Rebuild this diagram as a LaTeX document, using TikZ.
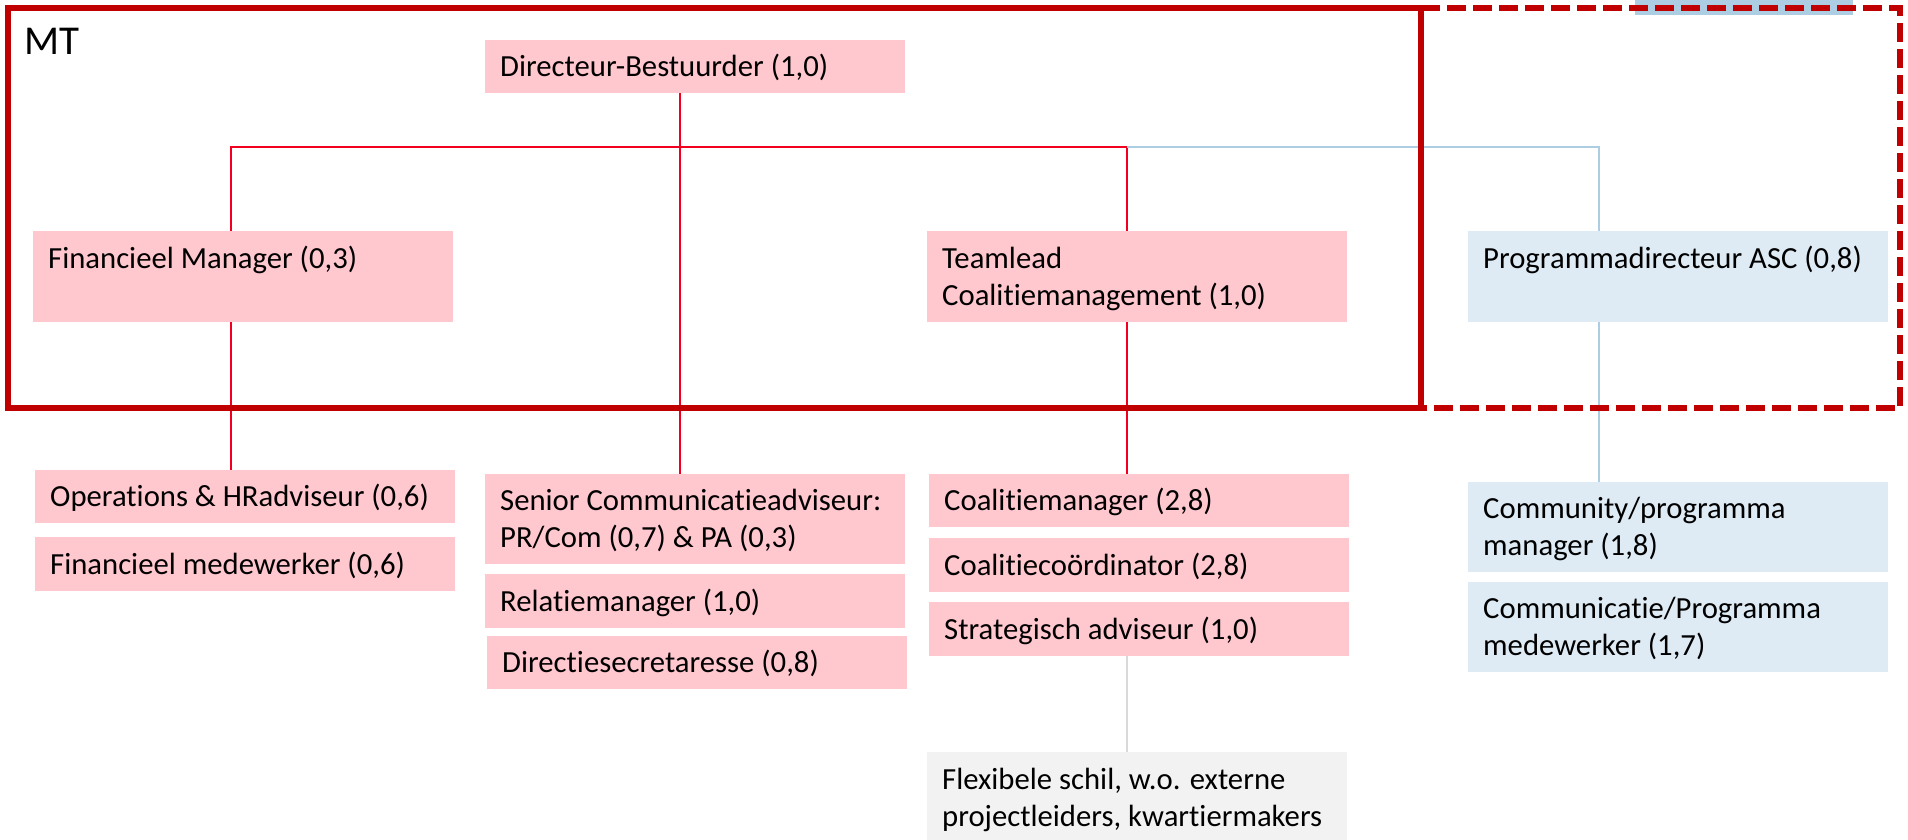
\documentclass[tikz,border=0pt]{standalone}
\usepackage{fontspec}
\setmainfont{Carlito}[Ligatures={NoCommon}]
\definecolor{boxpink}{HTML}{FFC7CE}
\definecolor{boxblue}{HTML}{DEEBF5}
\definecolor{boxgrey}{HTML}{F2F2F2}
\definecolor{linered}{HTML}{F0001E}
\definecolor{mtred}{HTML}{C00000}
\definecolor{lineblue}{HTML}{ADCDE3}
\definecolor{linegrey}{HTML}{D9D9D9}
\newcommand\mystrut{\rule[-8.5pt]{0pt}{37pt}}
\tikzset{
  orgbox/.style={draw=none, rectangle, anchor=north west, inner xsep=15pt, inner ysep=0pt,
    minimum width=420pt, align=left, font=\fontsize{30.7}{37}\selectfont, text=black},
  pinkbox/.style={orgbox, fill=boxpink},
  bluebox/.style={orgbox, fill=boxblue},
  greybox/.style={orgbox, fill=boxgrey},
  redline/.style={draw=linered, line width=2.5pt},
  blueline/.style={draw=lineblue, line width=2.5pt},
  greyline/.style={draw=linegrey, line width=2.5pt},
  mtframe/.style={draw=mtred, line width=6pt},
}
\begin{document}
\begin{tikzpicture}[x=1pt, y=-1pt]
\useasboundingbox (0,0) rectangle (1908,840);
% top bar
\fill[lineblue] (1635,0) rectangle (1853,15);
% boxes (text placed in a fixed-width box so it stays left-aligned)
\newcommand\bt[1]{\makebox[390pt][l]{#1}}
\node[pinkbox, minimum height=53pt] (dir) at (485,40) {\mystrut\bt{Directeur-Bestuurder (1,0)}};
\node[pinkbox, minimum height=91pt] (fm) at (33,231) {\mystrut\bt{Financieel Manager (0,3)}\\\mystrut};
\node[pinkbox, minimum height=91pt] (tl) at (927,231) {\mystrut\bt{Teamlead}\\\mystrut\bt{Coalitiemanagement (1,0)}};
\node[bluebox, minimum height=91pt] (pd) at (1468,231) {\mystrut\bt{Programmadirecteur ASC (0,8)}\\\mystrut};
\node[pinkbox, minimum height=53pt] (ops) at (35,470) {\mystrut\bt{Operations \& HRadviseur (0,6)}};
\node[pinkbox, minimum height=54pt] (fmw) at (35,537) {\mystrut\bt{Financieel medewerker (0,6)}};
\node[pinkbox, minimum height=90pt] (sen) at (485,474) {\mystrut\bt{Senior Communicatieadviseur:}\\\mystrut\bt{PR/Com (0,7) \& PA (0,3)}};
\node[pinkbox, minimum height=54pt] (rel) at (485,574) {\mystrut\bt{Relatiemanager (1,0)}};
\node[pinkbox, minimum height=53pt] (sec) at (487,636) {\mystrut\bt{Directiesecretaresse (0,8)}};
\node[pinkbox, minimum height=53pt] (cm) at (929,474) {\mystrut\bt{Coalitiemanager (2,8)}};
\node[pinkbox, minimum height=54pt] (cc) at (929,538) {\mystrut\bt{Coalitieco\"ordinator (2,8)}};
\node[pinkbox, minimum height=54pt] (sa) at (929,602) {\mystrut\bt{Strategisch adviseur (1,0)}};
\node[greybox, minimum height=91pt] (flex) at (927,752) {\mystrut\bt{Flexibele schil, w.o. externe}\\\mystrut\bt{projectleiders, kwartiermakers}};
\node[bluebox, minimum height=90pt] (com) at (1468,482) {\mystrut\bt{Community/programma}\\\mystrut\bt{manager (1,8)}};
\node[bluebox, minimum height=90pt] (cpm) at (1468,582) {\mystrut\bt{Communicatie/Programma}\\\mystrut\bt{medewerker (1,7)}};
% connector coordinates
\coordinate (hl) at (231,147);
\coordinate (hr) at (1127,147);
\coordinate (hb) at (1599,147);
\coordinate (dx) at (680,0);
% connectors
\draw[redline] (fm.north -| hl) -- (hl) -- (hr) -- (tl.north -| hr);
\draw[blueline] (hr) -- (hb) -- (pd.north -| hb);
\draw[redline] (dir.south -| dx) -- (sen.north -| dx);
\draw[redline] (fm.south -| hl) -- (ops.north -| hl);
\draw[redline] (tl.south -| hr) -- (cm.north -| hr);
\draw[blueline] (pd.south -| hb) -- (com.north -| hb);
\draw[greyline] (sa.south -| hr) -- (flex.north -| hr);
% frames
\draw[mtframe] (8,8) rectangle (1421,408);
\draw[mtframe, dash pattern=on 19pt off 7pt] (1421,8) -- (1900,8) -- (1900,408) -- (1421,408);
\node[anchor=base west, inner sep=0pt, font=\fontsize{41}{49}\selectfont] (mt) at (24,55) {MT};
\end{tikzpicture}
\end{document}
